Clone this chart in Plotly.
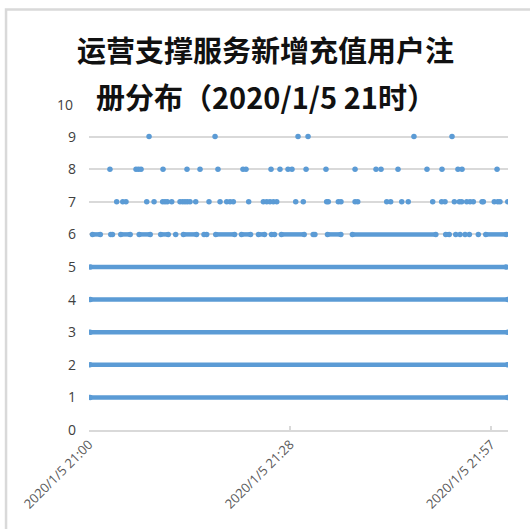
import plotly.graph_objects as go

DAY = "2020-01-05 "

# Registrations per second, 2020/1/5 21:00-22:00.
# Counts 1-5 occur throughout the hour; each span is a run of seconds at that count.
COUNT_1_SPANS = [("21:00:10", "21:59:56")]
COUNT_2_SPANS = [("21:00:08", "21:59:55")]
COUNT_3_SPANS = [("21:00:10", "21:59:57")]
COUNT_4_SPANS = [("21:00:12", "21:59:58")]
COUNT_5_SPANS = [("21:00:11", "21:59:44")]

# Count 6: runs of seconds (start == end marks a single second)
COUNT_6_SPANS = [
    ("21:00:30", "21:01:37"), ("21:03:07", "21:03:22"), ("21:04:33", "21:05:54"),
    ("21:07:11", "21:08:46"), ("21:10:16", "21:11:21"), ("21:12:25", "21:12:25"),
    ("21:13:31", "21:15:24"), ("21:16:28", "21:16:28"), ("21:16:51", "21:16:51"),
    ("21:18:09", "21:20:51"), ("21:21:50", "21:23:08"), ("21:24:16", "21:25:08"),
    ("21:26:08", "21:26:34"), ("21:27:33", "21:30:49"), ("21:32:06", "21:32:21"),
    ("21:34:09", "21:36:04"), ("21:37:43", "21:49:40"), ("21:51:05", "21:51:35"),
    ("21:52:31", "21:52:31"), ("21:53:08", "21:53:08"), ("21:53:51", "21:53:51"),
    ("21:54:28", "21:54:28"), ("21:55:45", "21:55:45"), ("21:56:49", "21:59:45"),
]

# Counts 7-9: individual seconds
COUNT_7_TIMES = [
    "21:03:58", "21:04:50", "21:05:18", "21:08:16", "21:09:19", "21:10:33",
    "21:10:53", "21:11:13", "21:11:51", "21:13:02", "21:13:25", "21:13:45",
    "21:14:05", "21:14:28", "21:15:17", "21:17:11", "21:18:46", "21:19:43",
    "21:20:12", "21:20:40", "21:22:52", "21:24:58", "21:25:27", "21:25:55",
    "21:26:24", "21:26:53", "21:29:36", "21:30:41", "21:34:02", "21:34:16",
    "21:35:42", "21:36:05", "21:38:06", "21:38:29", "21:42:38", "21:43:12",
    "21:44:47", "21:45:43", "21:49:13", "21:50:30", "21:50:59", "21:52:19",
    "21:53:02", "21:53:22", "21:54:05", "21:54:34", "21:55:02", "21:56:17",
    "21:56:28", "21:58:02", "21:58:32", "21:58:51", "21:59:58",
]
COUNT_8_TIMES = [
    "21:03:00", "21:06:44", "21:07:05", "21:07:27", "21:10:36", "21:14:02",
    "21:15:54", "21:18:28", "21:22:03", "21:22:29", "21:26:04", "21:27:21",
    "21:28:30", "21:29:04", "21:31:05", "21:33:56", "21:38:06", "21:41:06",
    "21:41:49", "21:44:15", "21:48:24", "21:50:33", "21:52:50", "21:53:25",
    "21:58:26",
]
COUNT_9_TIMES = ["21:08:36", "21:18:03", "21:29:56", "21:31:22", "21:46:32", "21:51:59"]

Y_TICKS = [0, 1, 2, 3, 4, 5, 6, 7, 8, 9, 10]
X_TICKS = ["21:00:00", "21:28:48", "21:57:36"]
X_RANGE = ["21:00:00", "22:00:00"]

TITLE_LINE_1 = "运营支撑服务新增充值用户注"
TITLE_LINE_2 = "册分布（2020/1/5 21时）"

BLUE = "#5b9bd5"
GRID = "#d9d9d9"
LABEL = "#595959"
YLABEL = "#404040"


def span_xy(spans, level):
    xs, ys = [], []
    for start, end in spans:
        xs.append(DAY + start)
        ys.append(level)
        if end != start:
            xs.append(DAY + end)
            ys.append(level)
        xs.append(None)
        ys.append(None)
    return xs, ys


series = [
    (1, COUNT_1_SPANS), (2, COUNT_2_SPANS), (3, COUNT_3_SPANS),
    (4, COUNT_4_SPANS), (5, COUNT_5_SPANS), (6, COUNT_6_SPANS),
    (7, [(t, t) for t in COUNT_7_TIMES]),
    (8, [(t, t) for t in COUNT_8_TIMES]),
    (9, [(t, t) for t in COUNT_9_TIMES]),
]

fig = go.Figure()
for level, spans in series:
    xs, ys = span_xy(spans, level)
    fig.add_trace(go.Scatter(
        x=xs, y=ys, mode="lines+markers",
        line=dict(color=BLUE, width=4.5),
        marker=dict(color=BLUE, size=5.5, line=dict(width=0)),
        connectgaps=False, showlegend=False, hoverinfo="x+y",
    ))

fig.update_layout(
    width=530, height=529,
    margin=dict(l=89, r=22, t=104, b=99),
    paper_bgcolor="white", plot_bgcolor="white",
    font=dict(family="Open Sans, Noto Sans CJK SC, sans-serif", color=LABEL),
    xaxis=dict(
        type="date",
        range=[DAY + X_RANGE[0], DAY + X_RANGE[1]],
        tickvals=[DAY + t for t in X_TICKS],
        tickformat="%Y/%-m/%-d %H:%M",
        tickangle=-45,
        tickfont=dict(size=13, color=LABEL),
        showgrid=False, zeroline=False,
        showline=True, linecolor=GRID, linewidth=1.5,
        ticks="inside", ticklen=4, tickcolor=GRID, tickwidth=1.5,
    ),
    yaxis=dict(
        range=[0, 10],
        tickvals=Y_TICKS[:-1],
        tickfont=dict(size=14, color=YLABEL),
        showgrid=True, gridcolor=GRID, gridwidth=1.5,
        zeroline=False, showline=False,
        ticklabelstandoff=12,
    ),
    shapes=[dict(
        type="rect", xref="paper", yref="paper",
        x0=-0.198, x1=1.2, y0=-0.5, y1=1.29,
        line=dict(color=GRID, width=2.5), fillcolor="rgba(0,0,0,0)", layer="below",
    )],
    annotations=[
        dict(text=str(Y_TICKS[-1]), xref="paper", yref="y", x=-0.034, y=Y_TICKS[-1],
             xanchor="right", yanchor="middle", showarrow=False,
             font=dict(size=14, color=YLABEL)),
        dict(text="<b>" + TITLE_LINE_1 + "</b>", xref="paper", yref="paper",
             x=0.4224, y=1.169, xanchor="center", yanchor="middle", showarrow=False,
             font=dict(family="Noto Sans CJK SC", size=29, color="#111111")),
        dict(text="<b>" + TITLE_LINE_2 + "</b>", xref="paper", yref="paper",
             x=0.4224, y=1.0246, xanchor="center", yanchor="middle", showarrow=False,
             font=dict(family="Noto Sans CJK SC", size=29, color="#111111")),
    ],
)

fig.write_html("out.html")
